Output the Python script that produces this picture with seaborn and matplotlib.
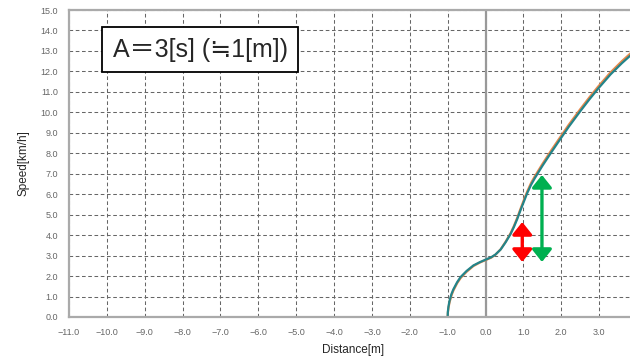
import matplotlib
matplotlib.use("Agg")
import matplotlib.pyplot as plt
import numpy as np
import pandas as pd
import seaborn as sns

# values
distance = [-1.0, -0.995, -0.98, -0.95, -0.9, -0.85, -0.75, -0.66, -0.5, -0.32, -0.15, 0.0,
            0.15, 0.26, 0.4, 0.53, 0.66, 0.75, 0.84, 0.92, 1.0, 1.1, 1.2, 1.3, 1.4, 1.5,
            1.72, 1.94, 2.2, 2.5, 2.75, 2.97, 3.3, 3.6, 3.9]
speed_teal = [0.0, 0.25, 0.5, 0.8, 1.12, 1.35, 1.7, 1.95, 2.25, 2.52, 2.68, 2.8,
              2.92, 3.05, 3.3, 3.65, 4.05, 4.4, 4.8, 5.2, 5.58, 6.05, 6.45, 6.78, 7.08, 7.38,
              8.0, 8.6, 9.3, 10.05, 10.65, 11.15, 11.85, 12.4, 12.9]
speed_orange = [0.0, 0.2, 0.43, 0.72, 1.05, 1.29, 1.65, 1.9, 2.21, 2.49, 2.66, 2.78,
                2.9, 3.04, 3.31, 3.68, 4.09, 4.45, 4.86, 5.27, 5.66, 6.13, 6.54, 6.87, 7.17, 7.47,
                8.1, 8.7, 9.4, 10.15, 10.75, 11.25, 11.95, 12.5, 13.0]

x_ticks = np.arange(-11, 5, 1.0)
y_ticks = np.arange(0, 16, 1.0)

# double arrows: x, bottom, top, colour
arrow_x = [0.97, 1.49]
arrow_low = [2.69, 2.69]
arrow_high = [4.64, 6.94]
arrow_colors = ["#ff0000", "#00b050"]

df = pd.DataFrame({
    "Distance": distance * 2,
    "Speed": speed_orange + speed_teal,
    "run": ["a"] * len(distance) + ["b"] * len(distance),
})

sns.set_style("white")
plt.rcParams["font.family"] = ["Liberation Sans", "DejaVu Sans"]

fig = plt.figure(figsize=(6.3, 3.61), dpi=100)
ax = fig.add_axes([69 / 630, 1 - 317 / 361, 568 / 630, 307 / 361])

sns.lineplot(data=df, x="Distance", y="Speed", hue="run", sort=False,
             palette=["#e8884a", "#23848a"], linewidth=1.6, legend=False, ax=ax)

ax.set_xlim(-11, 4)
ax.set_ylim(0, 15)
ax.set_xticks(x_ticks)
ax.set_yticks(y_ticks)
ax.set_xticklabels([f"{v:.1f}".replace("-", "\u2212") for v in x_ticks], fontsize=6.5, color="#666666")
ax.set_yticklabels([f"{v:.1f}" for v in y_ticks], fontsize=6.5, color="#666666")
ax.tick_params(axis="x", length=0, pad=8)
ax.tick_params(axis="y", length=0, pad=8)

ax.grid(True, linestyle=(0, (3.5, 2.5)), color="#666666", linewidth=0.75)
ax.axvline(0, color="#999999", linewidth=1.6, zorder=1.5)

for side in ["top", "left", "bottom"]:
    ax.spines[side].set_color("#aaaaaa")
    ax.spines[side].set_linewidth(1.6)
ax.spines["right"].set_visible(False)

for xa, lo, hi, c in zip(arrow_x, arrow_low, arrow_high, arrow_colors):
    ax.annotate("", xy=(xa, hi), xytext=(xa, lo),
                arrowprops=dict(arrowstyle="<|-|>,head_length=0.75,head_width=0.6",
                                color=c, lw=2.4, shrinkA=0, shrinkB=0))

ax.set_xlabel("Distance[m]", fontsize=8.5, labelpad=5)
ax.set_ylabel("Speed[km/h]", fontsize=8.5, labelpad=8)

ax.text(-7.54, 13.07, "A\uff1d3[s] (\u22521[m])", fontsize=18,
        family=["Liberation Sans", "Noto Sans CJK JP", "DejaVu Sans"], va="center", ha="center",
        bbox=dict(boxstyle="square,pad=0.42", facecolor="white", edgecolor="black", linewidth=1.3))

fig.savefig("out.png", dpi=100)
